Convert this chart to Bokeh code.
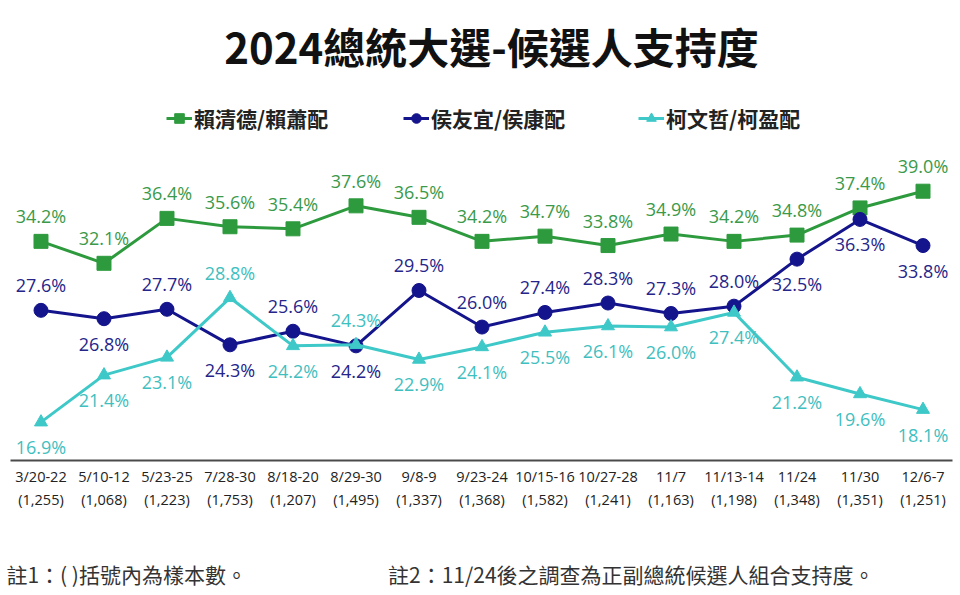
from bokeh.plotting import figure
from bokeh.models import (Range1d, FixedTicker, Label, Legend, LegendItem,
                          ColumnDataSource, LinearAxis)
from bokeh.embed import file_html
from bokeh.resources import INLINE

# ---------------- data ----------------
dates = ["3/20-22", "5/10-12", "5/23-25", "7/28-30", "8/18-20", "8/29-30", "9/8-9",
         "9/23-24", "10/15-16", "10/27-28", "11/7", "11/13-14", "11/24", "11/30", "12/6-7"]
samples = ["(1,255)", "(1,068)", "(1,223)", "(1,753)", "(1,207)", "(1,495)", "(1,337)",
           "(1,368)", "(1,582)", "(1,241)", "(1,163)", "(1,198)", "(1,348)", "(1,351)", "(1,251)"]
lai = [34.2, 32.1, 36.4, 35.6, 35.4, 37.6, 36.5, 34.2, 34.7, 33.8, 34.9, 34.2, 34.8, 37.4, 39.0]
hou = [27.6, 26.8, 27.7, 24.3, 25.6, 24.2, 29.5, 26.0, 27.4, 28.3, 27.3, 28.0, 32.5, 36.3, 33.8]
ko = [16.9, 21.4, 23.1, 28.8, 24.2, 24.3, 22.9, 24.1, 25.5, 26.1, 26.0, 27.4, 21.2, 19.6, 18.1]
names = ["賴清德/賴蕭配", "侯友宜/侯康配", "柯文哲/柯盈配"]
# label placement: 1 = above the point, -1 = below
lai_side = [1] * 15
hou_side = [1, -1, 1, -1, 1, -1, 1, 1, 1, 1, 1, 1, -1, -1, -1]
ko_side = [-1, -1, -1, 1, -1, 1, -1, -1, -1, -1, -1, -1, -1, -1, -1]

title_text = "2024總統大選-候選人支持度"
notes = ["註1：( )括號內為樣本數。", "註2：11/24後之調查為正副總統候選人組合支持度。"]
note_pos = [1.36, 9.37]   # centre of each note along the category axis

# ---------------- styles ----------------
GREEN, GREEN_T = "#2E9A3E", "#3A9A4A"
NAVY, NAVY_T = "#14148C", "#25258A"
CYAN, CYAN_T = "#3EC8C8", "#3FC0C0"
CJK = "Noto Sans CJK TC"
NUM = "Open Sans"

xs = list(range(len(dates)))

p = figure(width=960, height=595, output_backend="svg", toolbar_location=None,
           x_range=Range1d(-0.484, 14.468), y_range=Range1d(13.23, 57.25),
           y_axis_type=None, min_border_left=10, min_border_right=8,
           min_border_top=0, min_border_bottom=135)
p.outline_line_color = None
p.grid.visible = False
p.background_fill_color = "white"
p.border_fill_color = "white"

ax = p.xaxis[0]
ax.ticker = FixedTicker(ticks=xs)
ax.major_label_overrides = {i: f"{d}\n{s}" for i, (d, s) in enumerate(zip(dates, samples))}
ax.major_tick_line_color = None
ax.minor_tick_line_color = None
ax.axis_line_color = "#4A4A4A"
ax.axis_line_width = 2
ax.major_label_text_font = NUM
ax.major_label_text_font_size = "14.5px"
ax.major_label_text_color = "#222222"
ax.major_label_text_line_height = 1.25
ax.major_label_standoff = 0

note_axis = LinearAxis(ticker=FixedTicker(ticks=note_pos),
                       major_label_overrides={v: t for v, t in zip(note_pos, notes)},
                       axis_line_color=None, major_tick_line_color=None,
                       minor_tick_line_color=None, major_label_standoff=40,
                       major_label_text_font=CJK, major_label_text_font_size="21px",
                       major_label_text_color="#333333")
p.add_layout(note_axis, "below")

series = [
    (lai, lai_side, GREEN, GREEN_T, "square", 14),
    (hou, hou_side, NAVY, NAVY_T, "circle", 14),
    (ko, ko_side, CYAN, CYAN_T, "triangle", 13),
]
legend_items = []
for vals, side, col, tcol, marker, size in series:
    src = ColumnDataSource(dict(
        x=xs, y=vals,
        lab=[f"{v:.1f}%" for v in vals],
        off=[-25 if s > 0 else 25 for s in side],
    ))
    l = p.line("x", "y", source=src, line_color=col, line_width=3)
    m = p.scatter("x", "y", source=src, marker=marker, size=size,
                  fill_color=col, line_color=col)
    p.text("x", "y", text="lab", source=src, y_offset="off",
           text_align="center", text_baseline="middle",
           text_font_size="18px", text_color=tcol, text_font={"value": NUM})
    legend_items.append([l, m])

legend_x = [156, 393, 628]
for name, rends, lx in zip(names, legend_items, legend_x):
    lg = Legend(items=[LegendItem(label=name, renderers=rends)],
                location=(lx, 327), orientation="horizontal",
                glyph_width=26, glyph_height=24, label_height=24,
                label_standoff=2, padding=0, margin=0, spacing=0,
                border_line_color=None, background_fill_alpha=0,
                label_text_font=CJK, label_text_font_size="21px",
                label_text_font_style="bold", label_text_color="#222222",
                label_text_baseline="middle")
    p.add_layout(lg, "center")

p.add_layout(Label(x=481, y=415, x_units="screen", y_units="screen", text=title_text,
                   text_align="center", text_baseline="middle",
                   text_font=CJK, text_font_size="42px", text_font_style="bold",
                   text_color="#111111"))

open("out.html", "w").write(file_html(p, INLINE))
